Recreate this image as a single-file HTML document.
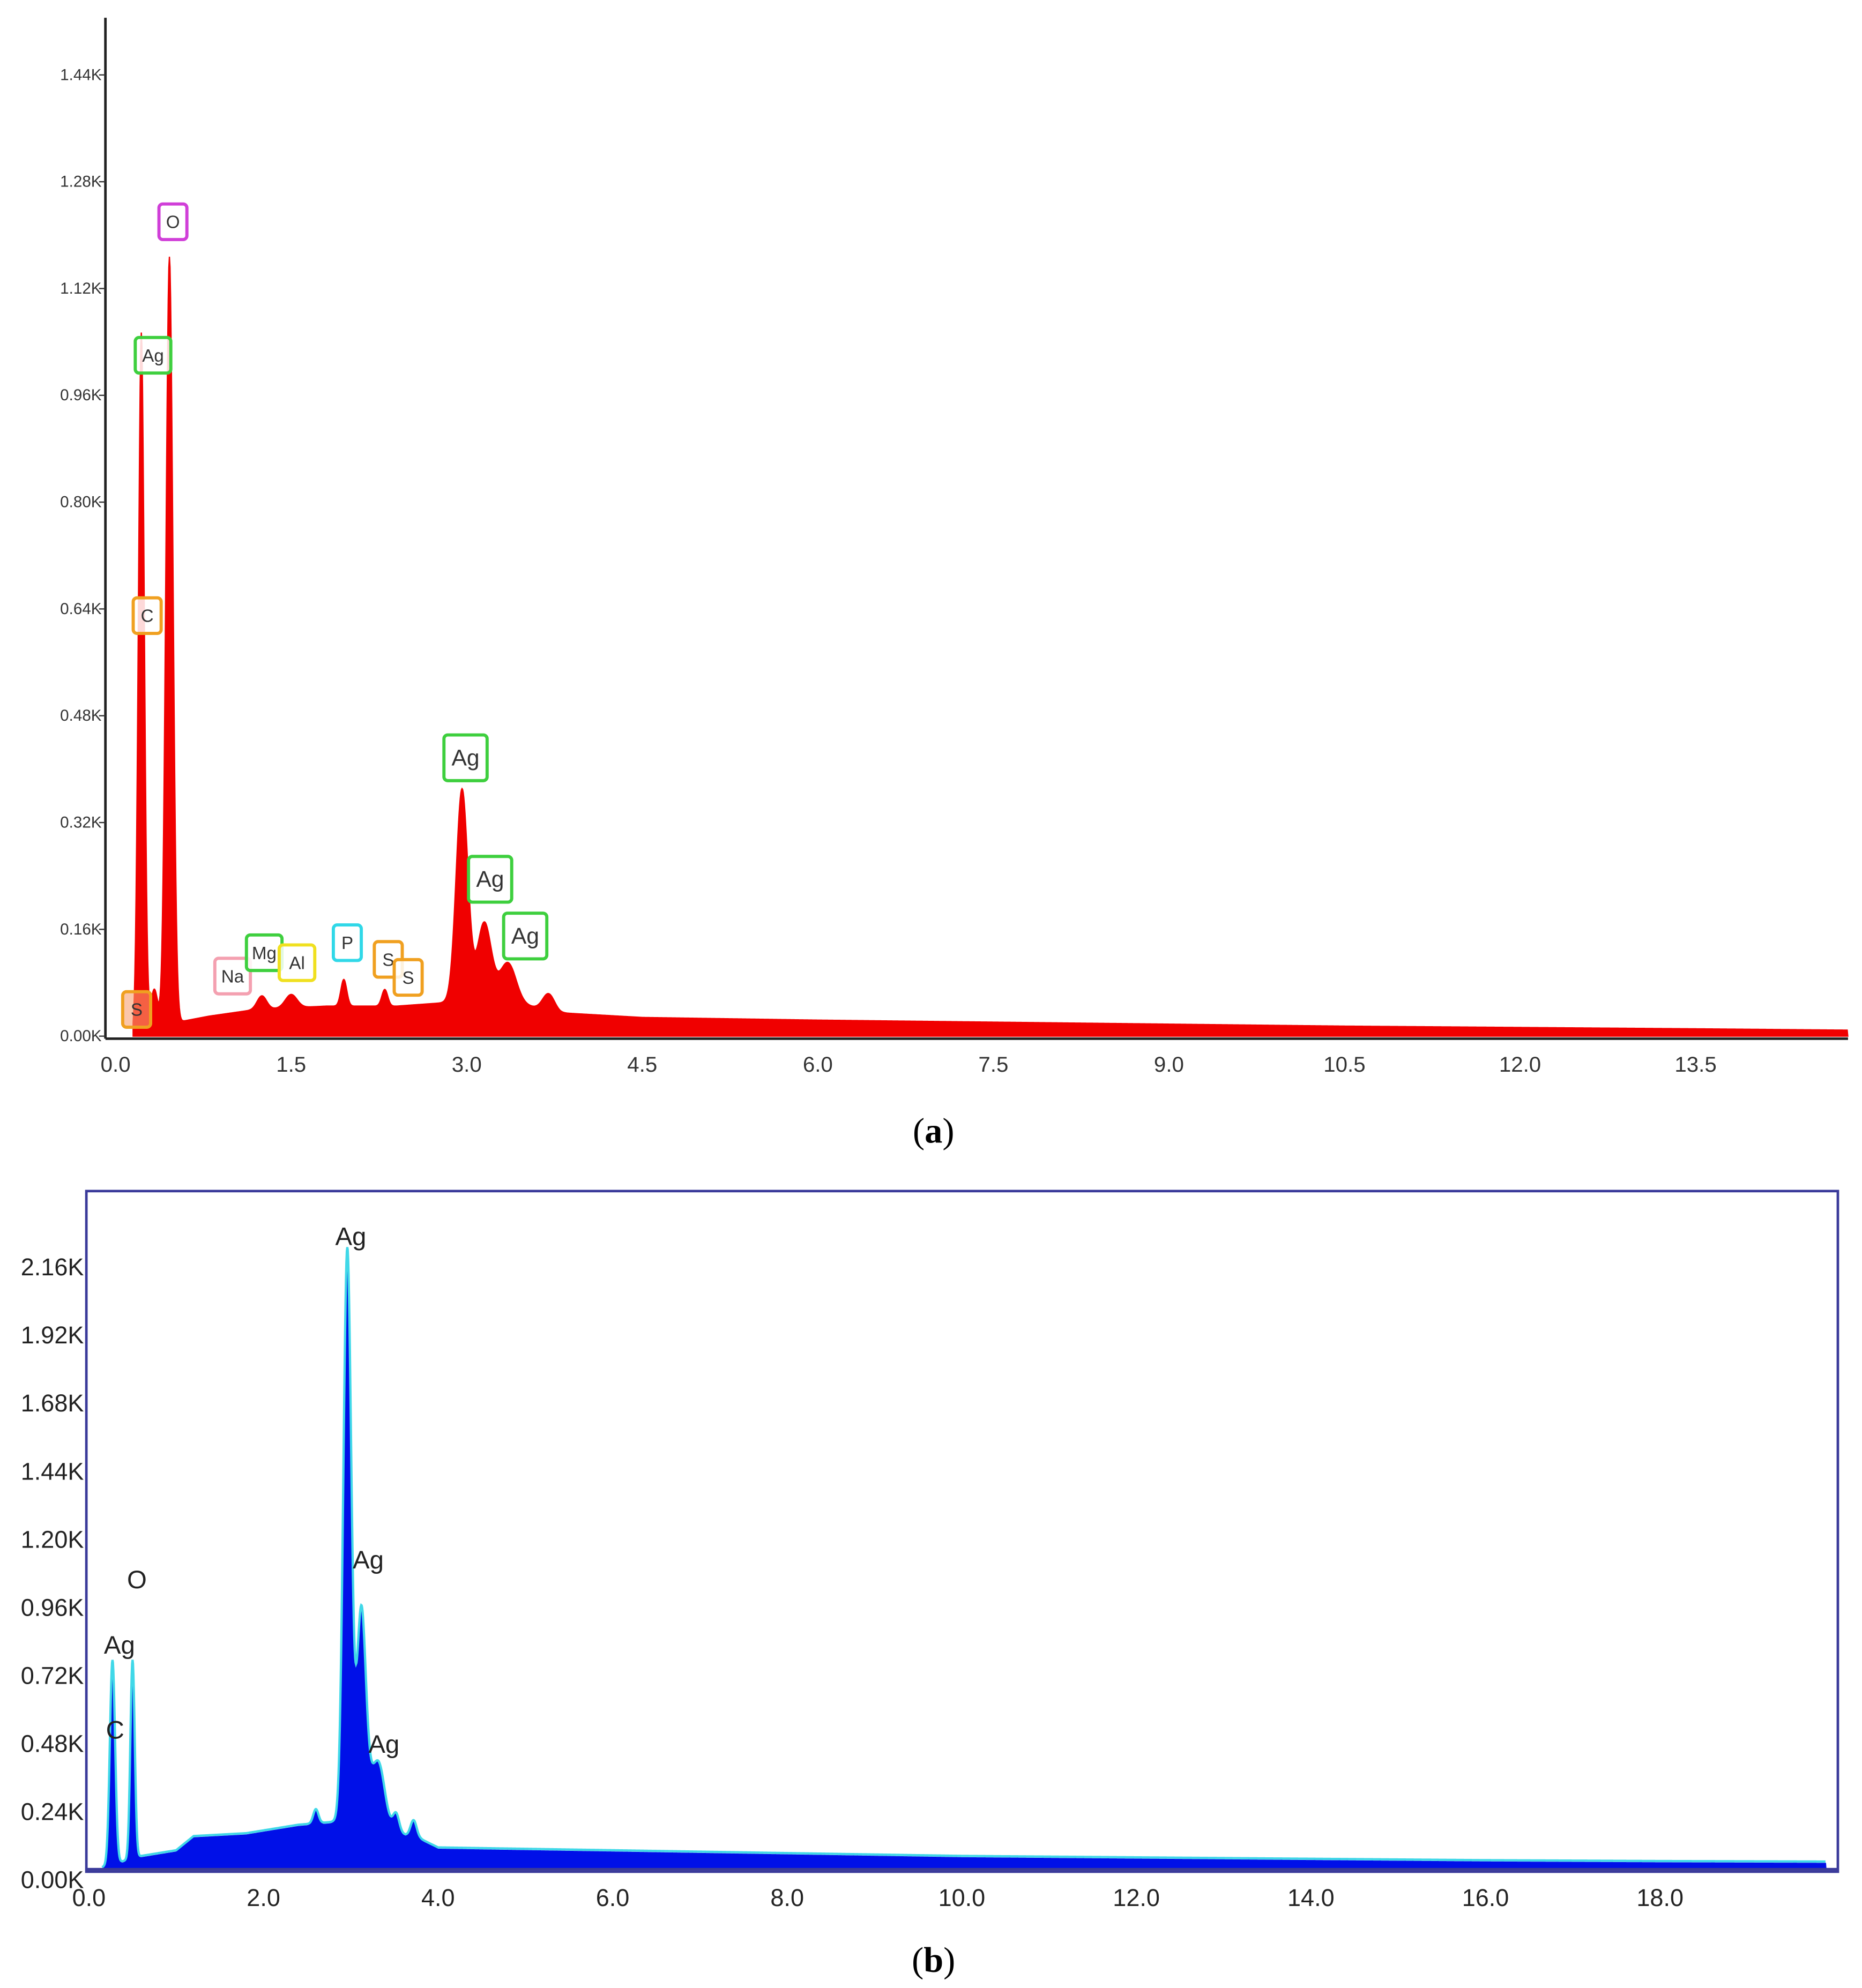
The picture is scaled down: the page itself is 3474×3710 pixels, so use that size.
<!DOCTYPE html>
<html><head><meta charset="utf-8">
<style>
html,body{margin:0;padding:0;background:#fff;}
svg{display:block;}
text{font-family:"Liberation Sans",sans-serif;}
</style></head>
<body>
<svg id="root" width="3474" height="3710" viewBox="0 0 1466 1565.6" preserveAspectRatio="none" xmlns="http://www.w3.org/2000/svg">
<rect width="1466" height="1566" fill="#fff"/>
<g id="chartA"></g>
<g id="chartB"></g>
<text x="735" y="900" text-anchor="middle" font-size="28" style="font-family:'Liberation Serif',serif">(<tspan font-weight="bold">a</tspan>)</text>
<text x="735" y="1553" text-anchor="middle" font-size="28" style="font-family:'Liberation Serif',serif">(<tspan font-weight="bold">b</tspan>)</text>
</svg>
<script>
// ---------- Data: chart (a) ----------
const aTicksY = [0,0.16,0.32,0.48,0.64,0.80,0.96,1.12,1.28,1.44];
const aTicksX = [0,1.5,3.0,4.5,6.0,7.5,9.0,10.5,12.0,13.5];
const aBgE = [0.15,0.5,0.8,1.2,1.8,2.4,2.8,3.4,3.8,4.5,6.0,7.5,9.0,10.5,12.0,13.5,14.8];
const aBgC = [0.0,0.02,0.03,0.04,0.045,0.045,0.05,0.05,0.035,0.028,0.024,0.021,0.018,0.015,0.013,0.011,0.009];
const aPeakE = [0.22,0.33,0.46,1.25,1.5,1.95,2.3,2.96,3.15,3.35,3.7];
const aPeakH = [1.05,0.06,1.15,0.02,0.02,0.04,0.025,0.32,0.12,0.06,0.025];
const aPeakW = [0.025,0.03,0.03,0.04,0.05,0.025,0.025,0.05,0.06,0.07,0.05];
const aLabels = ["O","Ag","C","S","Na","Mg","Al","P","S","S","Ag","Ag","Ag"];
const aLabelE = [0.49,0.32,0.27,0.18,1.0,1.27,1.55,1.98,2.33,2.5,2.99,3.2,3.5];
const aLabelC = [1.22,1.02,0.63,0.04,0.09,0.125,0.11,0.14,0.115,0.088,0.417,0.235,0.15];
const aLabelCol = ["#d03fd8","#3ecf3e","#f0a020","#f0a020","#f4a0b0","#3ecf3e","#f0e020","#30d8e8","#f0a020","#f0a020","#3ecf3e","#3ecf3e","#3ecf3e"];

// ---------- Data: chart (b) ----------
const bTicksY = [0,0.24,0.48,0.72,0.96,1.20,1.44,1.68,1.92,2.16];
const bTicksX = [0,2,4,6,8,10,12,14,16,18];
const bBgE = [0.15,0.6,1.0,1.2,1.8,2.4,2.8,3.0,3.8,4.0,6.0,8.0,10.0,12.0,14.0,16.0,18.0,20.0];
const bBgC = [0.0,0.04,0.06,0.11,0.12,0.15,0.16,0.16,0.1,0.07,0.06,0.05,0.04,0.035,0.03,0.025,0.022,0.02];
const bPeakE = [0.27,0.5,2.6,2.96,3.12,3.33,3.22,3.52,3.72];
const bPeakH = [0.72,0.7,0.05,2.0,0.65,0.12,0.16,0.06,0.06];
const bPeakW = [0.03,0.025,0.03,0.045,0.05,0.06,0.13,0.035,0.035];
const bLabels = ["Ag","Ag","Ag","O","Ag","C"];
const bLabelE = [3.0,3.2,3.38,0.55,0.35,0.3];
const bLabelC = [2.20,1.06,0.41,0.99,0.76,0.46];

const NS="http://www.w3.org/2000/svg";
function mk(parent,tag,attrs){const e=document.createElementNS(NS,tag);for(const k in attrs)e.setAttribute(k,attrs[k]);parent.appendChild(e);return e;}
function interp(xs,ys,x){if(x<=xs[0])return ys[0];for(let i=1;i<xs.length;i++){if(x<=xs[i]){const t=(x-xs[i-1])/(xs[i]-xs[i-1]);return ys[i-1]+t*(ys[i]-ys[i-1]);}}return ys[ys.length-1];}
function spec(bgE,bgC,pE,pH,pW,e){let v=interp(bgE,bgC,e);for(let i=0;i<pE.length;i++){const d=(e-pE[i])/pW[i];v+=pH[i]*Math.exp(-0.5*d*d);}return v;}

// ---- chart A ----
(function(){
const g=document.getElementById('chartA');
const X=e=>91+e*(1335-91)/13.5;
const Y=c=>816-c*(816-59)/1.44;
let d="M"+X(0.15)+","+Y(0);
for(let e=0.15;e<=14.8;e+=0.005){d+=" L"+X(e).toFixed(2)+","+Y(spec(aBgE,aBgC,aPeakE,aPeakH,aPeakW,e)).toFixed(2);}
d+=" L"+X(14.8)+","+Y(0)+" Z";
const area=mk(g,'path',{d:d,fill:'#f00000',stroke:'#f00000','stroke-width':'1'});


const ya=mk(g,'line',{x1:83,y1:14,x2:83,y2:818,stroke:'#222','stroke-width':2});


const xa=mk(g,'line',{x1:83,y1:818,x2:1455,y2:818,stroke:'#222','stroke-width':2});


aTicksY.forEach(v=>{
 mk(g,'line',{x1:78,x2:83,y1:Y(v),y2:Y(v),stroke:'#333','stroke-width':1});
 const t=mk(g,'text',{x:80,y:Y(v)+4,'text-anchor':'end','font-size':12.5,fill:'#333'});
 t.textContent=v.toFixed(2)+"K";
 
 
});
aTicksX.forEach(v=>{
 const t=mk(g,'text',{x:X(v),y:844,'text-anchor':'middle','font-size':17,fill:'#333'});
 t.textContent=v.toFixed(1);
 
 
});
aLabels.forEach((s,i)=>{
 const big=(i>=10);const w=big?34:(s.length>1?28:22),h=big?36:28;
 const cx=X(aLabelE[i]),cy=Y(aLabelC[i]);
 const r=mk(g,'rect',{x:cx-w/2,y:cy-h/2,width:w,height:h,rx:3,fill:i==3?'#f8a070':'#fff','fill-opacity':i==3?0.6:0.85,stroke:aLabelCol[i],'stroke-width':2.5});
 
 
 const t=mk(g,'text',{x:cx,y:cy+(big?6:5),'text-anchor':'middle','font-size':big?18:14,fill:'#333'});
 t.textContent=s;
 
 
});
})();

// ---- chart B ----
(function(){
const g=document.getElementById('chartB');
const X=e=>70+e*(1307-70)/18;
const Y=c=>1472-c*(1427-998)/1.92;
const fr=mk(g,'rect',{x:68,y:938,width:1379,height:536,fill:'#fff',stroke:'#3a3a9a','stroke-width':2});


let d="M"+X(0.15)+","+Y(0),fit="";
for(let e=0.15;e<=19.9;e+=0.005){const v=spec(bBgE,bBgC,bPeakE,bPeakH,bPeakW,e);d+=" L"+X(e).toFixed(2)+","+Y(v).toFixed(2);fit+=(fit?" L":"M")+X(e).toFixed(2)+","+(Y(v)-1.5).toFixed(2);}
d+=" L"+X(19.9)+","+Y(0)+" Z";
const area=mk(g,'path',{d:d,fill:'#0010e8',stroke:'#0010e8','stroke-width':1});


const ln=mk(g,'path',{d:fit,fill:'none',stroke:'#40d8e8','stroke-width':1.8});


const xa=mk(g,'line',{x1:68,y1:1472,x2:1447,y2:1472,stroke:'#3a3a9a','stroke-width':2});


bTicksY.forEach(v=>{
 const t=mk(g,'text',{x:66,y:Y(v)+15,'text-anchor':'end','font-size':19,fill:'#222'});
 t.textContent=v.toFixed(2)+"K";
 
 
});
bTicksX.forEach(v=>{
 const t=mk(g,'text',{x:X(v),y:1501,'text-anchor':'middle','font-size':19,fill:'#222'});
 t.textContent=v.toFixed(1);
 
 
});
bLabels.forEach((s,i)=>{
 const t=mk(g,'text',{x:X(bLabelE[i]),y:Y(bLabelC[i]),'text-anchor':'middle','font-size':20,fill:'#222'});
 t.textContent=s;
 
 
});
})();
</script>
</body></html>
